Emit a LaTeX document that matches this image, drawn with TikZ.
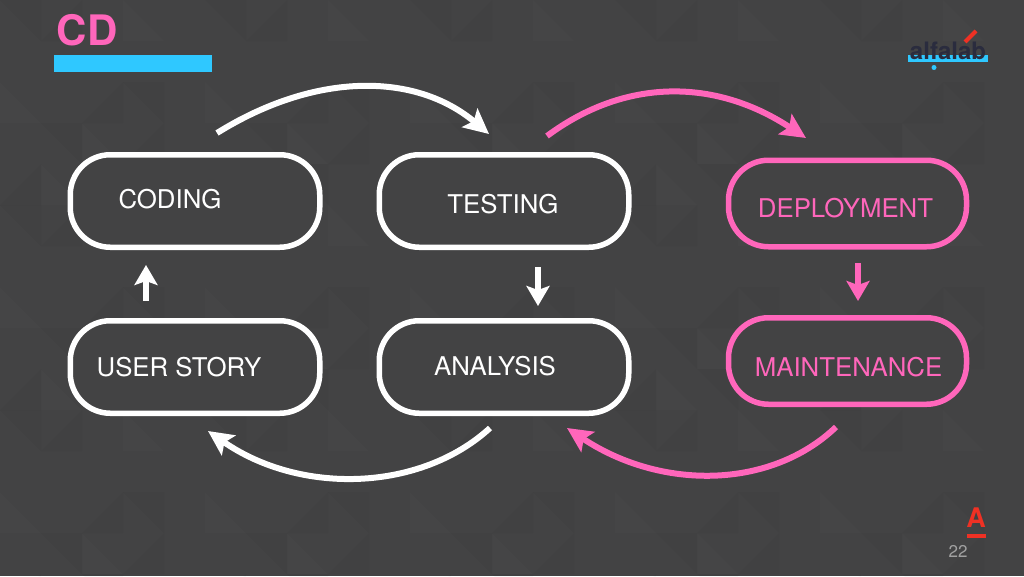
\documentclass[tikz,border=0pt]{standalone}
\usepackage{fontspec}
\setmainfont{TeX Gyre Heros}
\usetikzlibrary{arrows.meta,shadows}
\definecolor{bgc}{HTML}{434344}
\definecolor{pinkc}{HTML}{FF66BB}
\definecolor{bluec}{HTML}{2FC8FF}
\definecolor{redc}{HTML}{EF3124}
\definecolor{navyc}{HTML}{2A2C3E}
\tikzset{
  x=1pt,y=-1pt,
  boxbase/.style={rounded corners=40pt,line width=5.5pt,fill=bgc,inner sep=0pt,
    drop shadow={shadow xshift=0pt,shadow yshift=-2pt,opacity=.3,fill=black}},
  whitebox/.style={boxbase,draw=white},
  pinkbox/.style={boxbase,draw=pinkc},
  lbl/.style={font=\fontsize{25.8}{28}\selectfont,inner sep=0pt},
  whitelbl/.style={lbl,text=white},
  pinklbl/.style={lbl,text=pinkc},
  arc/.style={line width=6pt,-{Stealth[length=25pt,width=24pt,inset=5pt]}},
  stub/.style={line width=6pt,-{Stealth[length=20pt,width=23pt,inset=4pt]}},
}
\begin{document}
\begin{tikzpicture}
\useasboundingbox (0,0) rectangle (1024,576);
\fill[bgc] (0,0) rectangle (1024,576);
% faint tessellated background
\foreach \i in {0,...,25}{\foreach \j in {0,...,14}{
  \pgfmathtruncatemacro{\a}{mod(\i*7+\j*13+\i*\j*3,5)}
  \pgfmathsetmacro{\px}{\i*41}\pgfmathsetmacro{\py}{\j*41}
  \ifnum\a=0 \fill[black,opacity=.022] (\px,\py) -- ++(41,0) -- ++(0,41) -- cycle;\fi
  \ifnum\a=1 \fill[white,opacity=.01] (\px,\py) -- ++(41,41) -- ++(-41,0) -- cycle;\fi
  \ifnum\a=2 \fill[black,opacity=.016] (\px,\py) ++(41,0) -- ++(0,41) -- ++(-41,0) -- cycle;\fi
}}
% title
\node[font=\fontsize{42}{44}\selectfont\bfseries,text=pinkc,inner sep=0pt] (title) at (87,30.5) {CD};
\fill[bluec] (54,54.5) rectangle (211.5,71.5);
% boxes
\node[whitebox,minimum width=249.5pt,minimum height=92.5pt] (coding) at (195,201) {};
\node[whitebox,minimum width=249.5pt,minimum height=92.5pt] (testing) at (504,201) {};
\node[whitebox,minimum width=249.5pt,minimum height=92.5pt] (story) at (195,367) {};
\node[whitebox,minimum width=249.5pt,minimum height=92.5pt] (analysis) at (504,367) {};
\node[pinkbox,minimum width=238pt,minimum height=86.5pt] (deploy) at (847.5,203.5) {};
\node[pinkbox,minimum width=238pt,minimum height=86.5pt] (maint) at (847.5,361) {};
% labels
\node[whitelbl] (tcoding) at (170,199) {CODING};
\node[whitelbl] (ttesting) at (503,204) {TESTING};
\node[whitelbl] (tstory) at (179,367) {USER STORY};
\node[whitelbl] (tanalysis) at (495,366) {ANALYSIS};
\node[pinklbl] (tdeploy) at (845.5,208.5) {DEPLOYMENT};
\node[pinklbl] (tmaint) at (848.5,367) {MAINTENANCE};
% connector ends
\coordinate (a1) at (217,133); \coordinate (a2) at (489,134);
\coordinate (b1) at (547,136); \coordinate (b2) at (806,138);
\coordinate (c1) at (836,427); \coordinate (c2) at (567,428);
\coordinate (d1) at (490,428); \coordinate (d2) at (208,431);
\coordinate (s1) at (146,301); \coordinate (s2) at (146,265);
\coordinate (s3) at (538,267); \coordinate (s4) at (538,306);
\coordinate (s5) at (858,263); \coordinate (s6) at (858,301);
% arcs
\draw[arc,white] (a1) .. controls (315,72) and (415,72) .. (a2);
\draw[arc,pinkc] (b1) .. controls (625,78) and (715,78) .. (b2);
\draw[arc,pinkc] (c1) .. controls (770,490) and (660,490) .. (c2);
\draw[arc,white] (d1) .. controls (420,492) and (300,495) .. (d2);
% stubs
\draw[stub,white] (s1) -- (s2);
\draw[stub,white] (s3) -- (s4);
\draw[stub,pinkc] (s5) -- (s6);
% alfalab logo
\fill[bluec] (907.5,55) -- (988,55) -- (988,62) -- (907.5,62) -- cycle;
\node[font=\fontsize{24}{26}\selectfont\bfseries,text=navyc,inner sep=0pt] (logo) at (948,51) {alfalab};
\draw[redc,line width=4pt] (965,42) -- (976,31);
\fill[bluec] (934,67.5) circle (2.5pt);
% alfa mark
\node[font=\fontsize{27}{29}\selectfont\bfseries,text=redc,inner sep=0pt] (mark) at (976,518) {A};
\fill[redc] (966.5,534) rectangle (986,538);
\node[font=\fontsize{17}{19}\selectfont,text=white!50!bgc,inner sep=0pt] (page) at (958,551) {22};
\end{tikzpicture}
\end{document}
